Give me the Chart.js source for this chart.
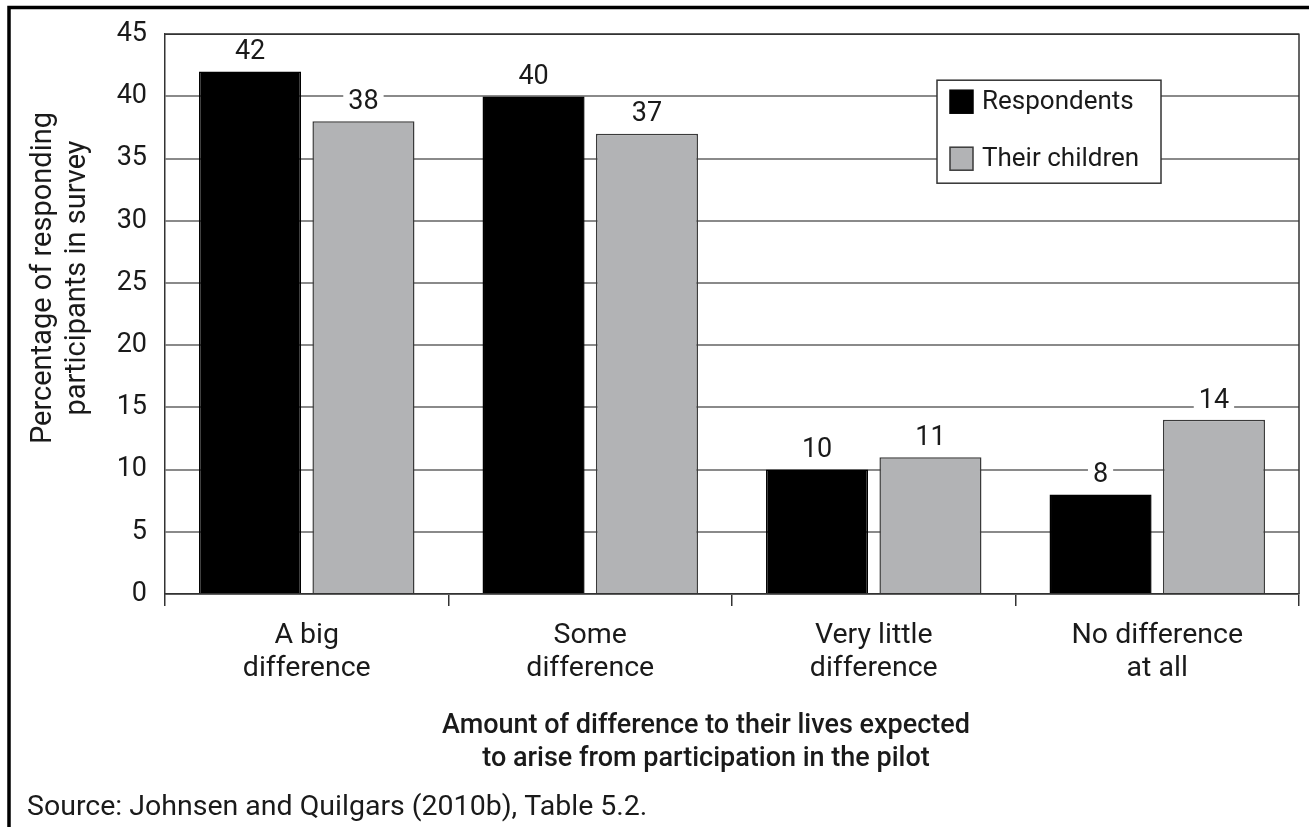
<!DOCTYPE html>
<html>
<head>
<meta charset="utf-8">
<script src="https://cdn.jsdelivr.net/npm/chart.js@4.4.1/dist/chart.umd.min.js"></script>
<style>
  body { margin: 0; background: #fff; }
  #wrap { width: 1309px; height: 827px; }
</style>
</head>
<body>
<div id="wrap"><canvas id="diffChart" width="1309" height="827"></canvas></div>
<script>
// Data
const categories = [["A big", "difference"], ["Some", "difference"], ["Very little", "difference"], ["No difference", "at all"]];
const respondents = [42, 40, 10, 8];
const theirChildren = [38, 37, 11, 14];
const seriesNames = ["Respondents", "Their children"];
const yTitle = ["Percentage of responding", "participants in survey"];
const xTitle = ["Amount of difference to their lives expected", "to arise from participation in the pilot"];
const sourceNote = "Source: Johnsen and Quilgars (2010b), Table 5.2.";

const FONT = "Roboto, 'Noto Sans', sans-serif";
const TXT = "#1a1a1a";

// frame, titles, value labels and legend box
const decorations = {
    id: "decorations",
    afterDraw(chart) {
        const ctx = chart.ctx;
        const area = chart.chartArea;
        ctx.save();

        // plot border top / right
        ctx.strokeStyle = "#333";
        ctx.lineWidth = 1.5;
        ctx.beginPath();
        ctx.moveTo(area.left, area.top);
        ctx.lineTo(area.right, area.top);
        ctx.lineTo(area.right, area.bottom);
        ctx.stroke();

        // outer frame (top + left only)
        ctx.strokeStyle = "#000";
        ctx.lineWidth = 3.5;
        ctx.beginPath();
        ctx.moveTo(9, 827);
        ctx.lineTo(9, 7.5);
        ctx.lineTo(1309, 7.5);
        ctx.stroke();

        // value labels with white knock-out
        ctx.font = "27px " + FONT;
        ctx.textAlign = "center";
        ctx.textBaseline = "middle";
        chart.data.datasets.forEach((ds, i) => {
            chart.getDatasetMeta(i).data.forEach((bar, j) => {
                const txt = String(ds.data[j]);
                const w = ctx.measureText(txt).width + 10;
                const y = bar.y - 19;
                ctx.fillStyle = "#fff";
                ctx.fillRect(bar.x - w / 2, y - 10, w, 20);
                ctx.fillStyle = TXT;
                ctx.fillText(txt, bar.x, y);
            });
        });

        // legend box
        const lx = area.right - 362, ly = area.top + 46, lw = 224, lh = 103;
        ctx.fillStyle = "#fff";
        ctx.fillRect(lx, ly, lw, lh);
        ctx.strokeStyle = "#333";
        ctx.lineWidth = 1.5;
        ctx.strokeRect(lx, ly, lw, lh);
        ctx.textAlign = "left";
        ctx.font = "26px " + FONT;
        chart.data.datasets.forEach((ds, i) => {
            const sy = ly + 10 + i * 57;
            ctx.fillStyle = ds.backgroundColor;
            ctx.fillRect(lx + 13, sy, 23, 23);
            ctx.strokeStyle = ds.borderColor;
            ctx.lineWidth = 1.5;
            ctx.strokeRect(lx + 13, sy, 23, 23);
            ctx.fillStyle = TXT;
            ctx.fillText(ds.label, lx + 45, sy + 12);
        });

        // axis titles
        ctx.textAlign = "center";
        ctx.fillStyle = TXT;
        ctx.font = "29px " + FONT;
        ctx.save();
        ctx.translate(44, 278);
        ctx.rotate(-Math.PI / 2);
        yTitle.forEach((line, k) => ctx.fillText(line, 0, k * 34));
        ctx.restore();

        ctx.font = "500 27px " + FONT;
        xTitle.forEach((line, k) => ctx.fillText(line, 706, 726 + k * 33));

        ctx.font = "28.5px " + FONT;
        ctx.textAlign = "left";
        ctx.fillText(sourceNote, 27, 808);
        ctx.restore();
    }
};

const ctx = document.getElementById("diffChart").getContext("2d");
new Chart(ctx, {
    type: "bar",
    data: {
        labels: categories,
        datasets: [{
            label: seriesNames[0],
            data: respondents,
            backgroundColor: "#000000",
            borderColor: "#000000",
            borderWidth: 1.5
        }, {
            label: seriesNames[1],
            data: theirChildren,
            backgroundColor: "#b2b3b5",
            borderColor: "#3a3a3a",
            borderWidth: 1.5
        }]
    },
    options: {
        responsive: false,
        animation: false,
        categoryPercentage: 0.8,
        barPercentage: 0.9,
        layout: { padding: { top: 33, right: 10, left: 0, bottom: 0 } },
        plugins: {
            legend: { display: false },
            tooltip: { enabled: false }
        },
        scales: {
            x: {
                afterFit: scale => { scale.height = 233; },
                grid: { drawOnChartArea: false, drawTicks: true, tickLength: 12, color: "#333", lineWidth: 1.5 },
                border: { color: "#333", width: 1.5 },
                ticks: { color: TXT, padding: 13, maxRotation: 0, font: { family: FONT, size: 28.5, lineHeight: "33px" } }
            },
            y: {
                min: 0,
                max: 45,
                afterFit: scale => { scale.width = 165; },
                ticks: { stepSize: 5, color: TXT, padding: 18, font: { family: FONT, size: 27 } },
                grid: { color: "#8a8a8a", lineWidth: 2, drawTicks: false },
                border: { color: "#333", width: 1.5 }
            }
        }
    },
    plugins: [decorations]
});
</script>
</body>
</html>
